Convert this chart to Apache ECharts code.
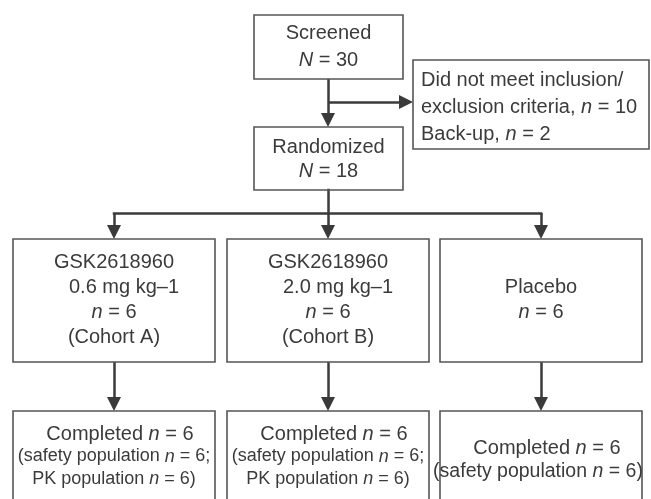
<!DOCTYPE html>
<html>
<head>
<meta charset="utf-8">
<style>
  html, body { margin: 0; padding: 0; background: #fff; }
  #main { width: 651px; height: 499px; }
</style>
<script src="https://cdn.jsdelivr.net/npm/echarts@6/dist/echarts.min.js"></script>
</head>
<body>
<div id="main"></div>
<script>
// counts
const screenedN = 30;
const randomizedN = 18;
const notEligibleN = 10;
const backupN = 2;
const armNames = ['GSK2618960', 'GSK2618960', 'Placebo'];
const armDoses = ['0.6 mg kg–1', '2.0 mg kg–1', null];
const armN = [6, 6, 6];
const armCohorts = ['Cohort A', 'Cohort B', null];
const completedN = [6, 6, 6];
const safetyN = [6, 6, 6];
const pkN = [6, 6, null];

const FONT = '"Liberation Sans", Arial, Helvetica, sans-serif';
const TEXT = '#3b3b3b';
const BORDER = '#555555';
const LINK = '#3a3a3a';
const ARROW = [9, 14];

// layout (pixel space of the 651x499 canvas)
const armX = [13, 227, 440];
const armW = 202;
const armTop = 239, armBottom = 362;
const doneTop = 411, doneBottom = 505;
const trunkX = 328, branchY = 213;

const nodes = [];
nodes.push({
  box: [254, 15, 403, 79], align: 'center', firstY: 33, gap: 27,
  lines: [{ t: 'Screened' }, { t: '{i|N} = ' + screenedN }]
});
nodes.push({
  box: [413, 60, 649, 149], align: 'left', tx: 421, firstY: 80, gap: 27,
  lines: [
    { t: 'Did not meet inclusion/' },
    { t: 'exclusion criteria, {i|n} = ' + notEligibleN },
    { t: 'Back-up, {i|n} = ' + backupN }
  ]
});
nodes.push({
  box: [254, 127, 403, 190], align: 'center', firstY: 147, gap: 24,
  lines: [{ t: 'Randomized' }, { t: '{i|N} = ' + randomizedN }]
});
armNames.forEach((name, i) => {
  const lines = [{ t: name }];
  if (armDoses[i]) lines.push({ t: armDoses[i], dx: 10 });
  lines.push({ t: '{i|n} = ' + armN[i] });
  if (armCohorts[i]) lines.push({ t: '(' + armCohorts[i] + ')' });
  nodes.push({
    box: [armX[i], armTop, armX[i] + armW, armBottom], align: 'center',
    firstY: lines.length === 4 ? 262 : 287, gap: 25, lines
  });
});
completedN.forEach((c, i) => {
  const lines = [{ t: 'Completed {i|n} = ' + c, dx: 6 }];
  if (pkN[i] != null) {
    lines.push({ t: '(safety population {i|n} = ' + safetyN[i] + ';', size: 18 });
    lines.push({ t: 'PK population {i|n} = ' + pkN[i] + ')', size: 18 });
  } else {
    lines.push({ t: '(safety population {i|n} = ' + safetyN[i] + ')', size: 19.5, dx: -3 });
  }
  nodes.push({
    box: [armX[i], doneTop, armX[i] + armW, doneBottom], align: 'center',
    firstY: lines.length === 3 ? 434 : 448, gap: lines.length === 3 ? 22.5 : 24, lines
  });
});

// connectors
const arrowLinks = [
  [[trunkX, 79], [trunkX, 127]],
  [[trunkX, 102], [413, 102]]
];
const plainLinks = [
  [[trunkX, 190], [trunkX, branchY]],
  [[armX[0] + armW / 2, branchY], [armX[2] + armW / 2, branchY]]
];
armX.forEach(x => {
  const cx = x + armW / 2;
  arrowLinks.push([[cx, branchY], [cx, armTop]]);
  arrowLinks.push([[cx, armBottom], [cx, doneTop]]);
});

// the end symbol is centred on the end point, so pull the end back by half its length
function pullBack(a, b) {
  const dx = b[0] - a[0], dy = b[1] - a[1];
  const len = Math.sqrt(dx * dx + dy * dy);
  const k = (len - ARROW[1] / 2) / len;
  return [a[0] + dx * k, a[1] + dy * k];
}

function renderBox(params, api) {
  const node = nodes[params.dataIndex];
  const p0 = api.coord([api.value(0), api.value(1)]);
  const p1 = api.coord([api.value(2), api.value(3)]);
  const children = [{
    type: 'rect',
    shape: { x: p0[0], y: p0[1], width: p1[0] - p0[0], height: p1[1] - p0[1] },
    style: { fill: 'none', stroke: BORDER, lineWidth: 1.6 }
  }];
  const tx = node.align === 'left' ? node.tx : (node.box[0] + node.box[2]) / 2;
  node.lines.forEach((ln, k) => {
    const size = ln.size || 20;
    const pos = api.coord([tx + (ln.dx || 0), node.firstY + k * node.gap]);
    children.push({
      type: 'text',
      x: pos[0],
      y: pos[1],
      style: {
        text: ln.t,
        fontSize: size,
        fontFamily: FONT,
        fill: TEXT,
        align: node.align,
        verticalAlign: 'middle',
        rich: {
          i: { fontStyle: 'italic', fontSize: size, fontFamily: FONT, fill: TEXT }
        }
      }
    });
  });
  return { type: 'group', children };
}

const chart = echarts.init(document.getElementById('main'));
chart.setOption({
  animation: false,
  backgroundColor: '#fff',
  grid: { left: 0, right: 0, top: 0, bottom: 0 },
  xAxis: { type: 'value', min: 0, max: 651, show: false },
  yAxis: { type: 'value', min: 0, max: 499, inverse: true, show: false },
  series: [
    {
      type: 'lines',
      coordinateSystem: 'cartesian2d',
      silent: true,
      symbol: 'none',
      lineStyle: { color: LINK, width: 2.5, opacity: 1, cap: 'square' },
      data: plainLinks.map(s => ({ coords: s }))
    },
    {
      type: 'lines',
      coordinateSystem: 'cartesian2d',
      silent: true,
      symbol: ['none', 'triangle'],
      symbolSize: ARROW,
      lineStyle: { color: LINK, width: 2.5, opacity: 1 },
      data: arrowLinks.map(s => ({ coords: [s[0], pullBack(s[0], s[1])] }))
    },
    {
      type: 'custom',
      coordinateSystem: 'cartesian2d',
      silent: true,
      encode: { x: [0, 2], y: [1, 3] },
      data: nodes.map(n => n.box),
      renderItem: renderBox
    }
  ]
});
</script>
</body>
</html>
